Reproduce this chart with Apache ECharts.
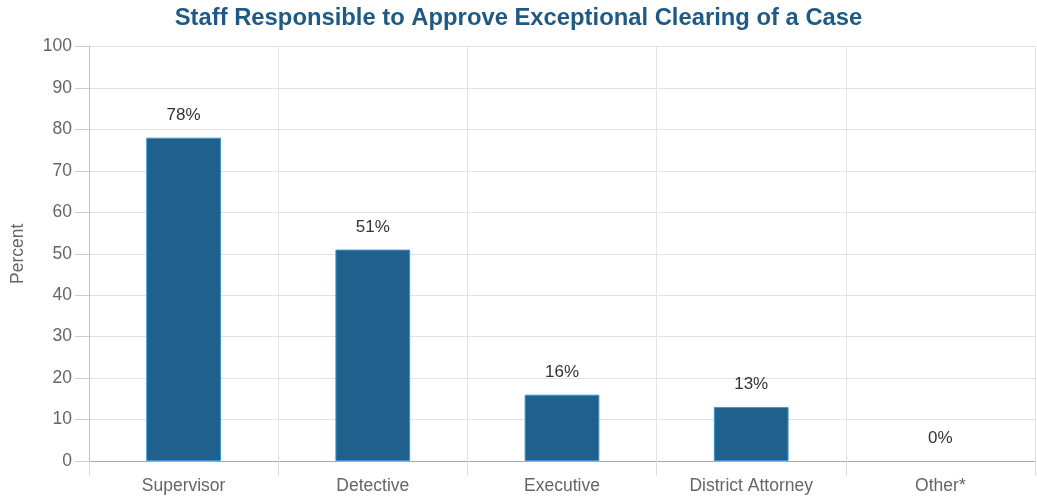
<!DOCTYPE html>
<html>
<head>
<meta charset="utf-8">
<script src="https://cdn.jsdelivr.net/npm/echarts@6/dist/echarts.min.js"></script>
<style>
html,body{margin:0;padding:0;background:#fff;}
#chart{width:1037px;height:496px;}
</style>
</head>
<body>
<div id="chart"></div>
<script>
const titleText = "Staff Responsible to Approve Exceptional Clearing of a Case";
const categories = ["Supervisor", "Detective", "Executive", "District Attorney", "Other*"];
const values = [78, 51, 16, 13, 0];
const yAxisName = "Percent";

const chart = echarts.init(document.getElementById('chart'), null, {renderer: 'canvas'});
const FONT = "'Liberation Sans', Arial, sans-serif";
const seriesData = values.map(v => v === 0 ? {value: v, itemStyle: {borderWidth: 0, opacity: 0}, label: {opacity: 1}} : v);
chart.setOption({
  animation: false,
  backgroundColor: '#fff',
  title: {
    text: titleText,
    left: 'center',
    top: 1,
    textStyle: {fontFamily: FONT, fontSize: 23.8, fontWeight: 'bold', color: '#1f5a85'}
  },
  grid: {left: 89, right: 2, top: 46.5, bottom: 35, containLabel: false},
  xAxis: {
    type: 'category',
    data: categories,
    boundaryGap: true,
    axisLine: {show: true, lineStyle: {color: '#aaa', width: 1}},
    axisTick: {show: true, length: 15, interval: 0, lineStyle: {color: '#ddd'}},
    splitLine: {show: true, interval: 0, lineStyle: {color: '#e3e3e3'}},
    axisLabel: {margin: 16, interval: 0, fontFamily: FONT, fontSize: 17.5, color: '#666'}
  },
  yAxis: {
    type: 'value',
    min: 0, max: 100, interval: 10,
    name: yAxisName,
    nameLocation: 'middle',
    nameRotate: 90,
    nameGap: 62,
    nameTextStyle: {fontFamily: FONT, fontSize: 17.5, color: '#666'},
    axisLine: {show: true, lineStyle: {color: '#c4c4c4'}},
    axisTick: {show: true, length: 14, lineStyle: {color: '#ccc'}},
    splitLine: {show: true, lineStyle: {color: '#e3e3e3'}},
    axisLabel: {margin: 17, fontFamily: FONT, fontSize: 17.5, color: '#666'}
  },
  series: [{
    type: 'bar',
    data: seriesData,
    barWidth: '39.5%',
    itemStyle: {color: '#1f608c', borderColor: '#3f93d2', borderWidth: 1},
    label: {
      show: true,
      position: 'top',
      distance: 14,
      formatter: '{c}%',
      fontFamily: FONT,
      fontSize: 17,
      color: '#333'
    }
  }]
});
</script>
</body>
</html>
